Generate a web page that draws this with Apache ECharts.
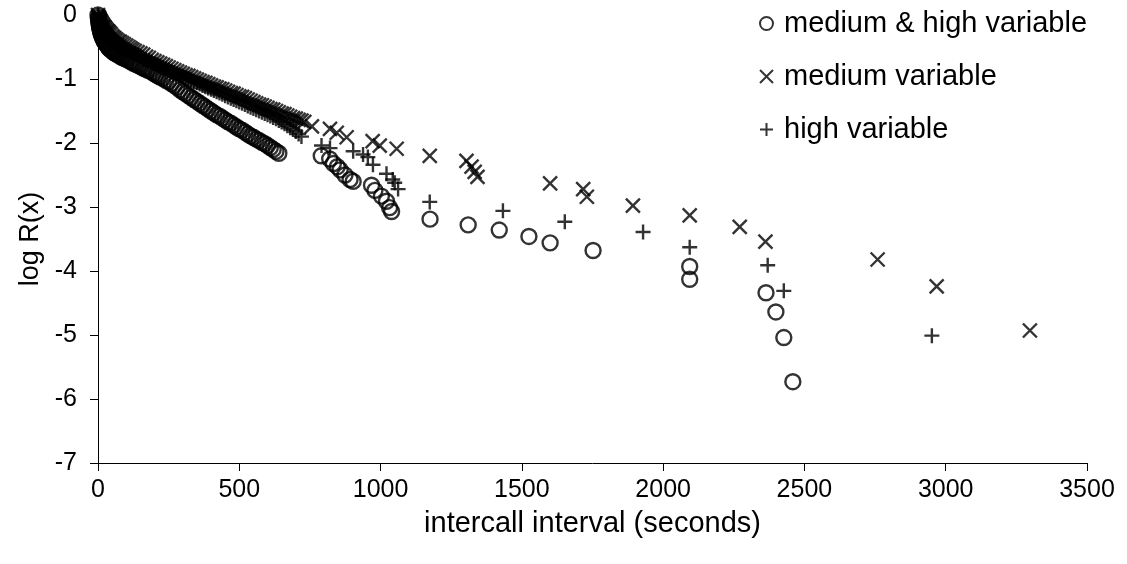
<!DOCTYPE html>
<html>
<head>
<meta charset="utf-8">
<script src="https://cdn.jsdelivr.net/npm/echarts@6/dist/echarts.min.js"></script>
<style>
  html, body { margin: 0; padding: 0; background: #fff; }
  #main { width: 1127px; height: 564px; }
</style>
</head>
<body>
<div id="main"></div>
<script>
  // medium & high variable (circles)
  var mhX = [0,1,2,3,4,5,6,7,8,9,10,11,13,14,16,18,20,22,25,28,30,33,36,39,42,46,50,54,58,62,66,70,75,80,85,90,95,100,105,112,118,124,130,137,145,152,160,167,175,182,190,197,205,212,220,230,240,250,260,270,280,290,300,310,320,330,340,350,360,370,380,390,400,410,420,430,440,450,460,470,480,490,500,510,520,530,540,550,560,570,580,590,600,610,620,630,640,
             790,820,833,847,857,874,892,903,968,980,1003,1021,1032,1039,1175,1310,1420,1525,1600,1752,2094,2094,2364,2399,2427,2459];
  var mhY = [0,-0.04,-0.08,-0.11,-0.14,-0.17,-0.19,-0.21,-0.23,-0.25,-0.27,-0.29,-0.31,-0.33,-0.35,-0.37,-0.39,-0.41,-0.43,-0.45,-0.46,-0.48,-0.5,-0.52,-0.53,-0.55,-0.56,-0.58,-0.59,-0.6,-0.61,-0.62,-0.63,-0.65,-0.66,-0.67,-0.68,-0.69,-0.7,-0.72,-0.73,-0.75,-0.76,-0.78,-0.79,-0.81,-0.83,-0.84,-0.86,-0.87,-0.89,-0.91,-0.93,-0.95,-0.97,-0.99,-1.02,-1.04,-1.07,-1.1,-1.13,-1.17,-1.2,-1.23,-1.26,-1.29,-1.32,-1.35,-1.38,-1.41,-1.44,-1.47,-1.5,-1.53,-1.56,-1.58,-1.61,-1.64,-1.67,-1.69,-1.72,-1.75,-1.78,-1.8,-1.83,-1.86,-1.89,-1.91,-1.94,-1.96,-1.99,-2.01,-2.04,-2.07,-2.1,-2.13,-2.16,
             -2.2,-2.25,-2.32,-2.37,-2.42,-2.5,-2.57,-2.6,-2.66,-2.74,-2.83,-2.91,-3.01,-3.07,-3.19,-3.28,-3.36,-3.46,-3.56,-3.68,-3.93,-4.13,-4.34,-4.64,-5.04,-5.73];

  // medium variable (crosses)
  var mvX = [0,2,3,5,6,8,10,12,15,18,20,23,26,30,33,37,40,45,50,55,60,66,72,78,85,92,100,108,115,122,130,140,150,160,170,180,190,200,210,220,230,240,250,260,270,280,290,300,310,320,330,340,350,360,370,380,390,400,410,420,430,440,450,460,470,480,490,500,510,520,530,540,550,560,570,580,590,600,610,620,630,640,650,660,670,680,690,700,710,720,730,
             757,821,845,880,972,997,1057,1174,1304,1322,1333,1343,1600,1717,1730,1893,2094,2271,2362,2759,2968,3298];
  var mvY = [0,-0.03,-0.04,-0.06,-0.07,-0.09,-0.1,-0.12,-0.14,-0.16,-0.18,-0.19,-0.21,-0.23,-0.25,-0.26,-0.28,-0.3,-0.33,-0.35,-0.37,-0.39,-0.41,-0.42,-0.44,-0.46,-0.48,-0.5,-0.52,-0.54,-0.56,-0.58,-0.6,-0.62,-0.65,-0.67,-0.7,-0.72,-0.74,-0.76,-0.78,-0.8,-0.82,-0.84,-0.86,-0.88,-0.9,-0.92,-0.94,-0.95,-0.97,-0.99,-1.01,-1.03,-1.05,-1.06,-1.08,-1.1,-1.12,-1.13,-1.15,-1.16,-1.18,-1.2,-1.22,-1.23,-1.25,-1.27,-1.28,-1.3,-1.32,-1.34,-1.36,-1.38,-1.4,-1.41,-1.43,-1.45,-1.47,-1.48,-1.5,-1.52,-1.54,-1.55,-1.57,-1.59,-1.61,-1.62,-1.64,-1.65,-1.67,
             -1.74,-1.78,-1.84,-1.91,-1.97,-2.04,-2.09,-2.2,-2.28,-2.37,-2.45,-2.53,-2.63,-2.72,-2.84,-2.98,-3.13,-3.31,-3.54,-3.82,-4.24,-4.93];

  // high variable (plus)
  var hvX = [0,2,4,6,8,10,12,15,18,21,24,27,30,34,38,42,46,50,55,60,65,70,75,82,88,94,100,108,115,122,130,138,145,152,160,170,180,190,200,210,220,230,240,250,260,270,280,290,300,310,320,330,340,350,360,370,380,390,400,410,420,430,440,450,460,470,480,490,500,510,520,530,540,550,560,570,580,590,600,610,620,630,640,650,660,670,680,690,700,710,720,
             791,821,903,938,955,973,1021,1043,1050,1062,1174,1433,1652,1929,2094,2370,2427,2951];
  var hvY = [0,-0.03,-0.05,-0.07,-0.09,-0.11,-0.12,-0.15,-0.17,-0.19,-0.21,-0.23,-0.25,-0.27,-0.29,-0.31,-0.33,-0.35,-0.37,-0.39,-0.41,-0.42,-0.44,-0.46,-0.48,-0.5,-0.52,-0.54,-0.56,-0.58,-0.6,-0.62,-0.63,-0.65,-0.67,-0.69,-0.71,-0.73,-0.76,-0.78,-0.8,-0.82,-0.84,-0.86,-0.88,-0.9,-0.92,-0.94,-0.96,-0.98,-1.0,-1.02,-1.04,-1.06,-1.08,-1.1,-1.12,-1.14,-1.16,-1.18,-1.2,-1.22,-1.24,-1.26,-1.28,-1.3,-1.32,-1.34,-1.36,-1.38,-1.4,-1.42,-1.44,-1.46,-1.48,-1.5,-1.52,-1.54,-1.56,-1.58,-1.6,-1.62,-1.65,-1.67,-1.7,-1.73,-1.76,-1.79,-1.82,-1.86,-1.9,
             -2.04,-2.08,-2.13,-2.18,-2.22,-2.34,-2.48,-2.57,-2.62,-2.72,-2.92,-3.06,-3.23,-3.39,-3.63,-3.91,-4.31,-5.01];

  var xTicks = [0, 500, 1000, 1500, 2000, 2500, 3000, 3500];
  var yTicks = [0, -1, -2, -3, -4, -5, -6, -7];

  function pairs(xs, ys) {
    return xs.map(function (x, i) { return [x, ys[i]]; });
  }

  var crossPath = 'path://M0,0L10,10M10,0L0,10';
  var plusPath = 'path://M5,0L5,10M0,5L10,5';
  var font = 'Liberation Sans, Arial, sans-serif';

  var myChart = echarts.init(document.getElementById('main'));
  myChart.setOption({
    animation: false,
    backgroundColor: '#fff',
    grid: { left: 98, right: 40, top: 15, bottom: 101 },
    legend: {
      orient: 'vertical',
      left: 754,
      top: 4,
      itemWidth: 13,
      itemHeight: 13,
      itemGap: 24,
      textStyle: { fontSize: 29, color: '#000', fontFamily: font, padding: [0, 0, 0, 6] },
      data: ['medium & high variable', 'medium variable', 'high variable']
    },
    xAxis: {
      type: 'value',
      min: xTicks[0],
      max: xTicks[xTicks.length - 1],
      interval: 500,
      name: 'intercall interval (seconds)',
      nameLocation: 'middle',
      nameGap: 46,
      nameTextStyle: { fontSize: 29, color: '#000', fontFamily: font },
      splitLine: { show: false },
      axisLine: { onZero: false, lineStyle: { color: '#000', width: 1 } },
      axisTick: { length: 8, lineStyle: { color: '#000' } },
      axisLabel: { fontSize: 25, color: '#000', fontFamily: font, margin: 15, formatter: function (v) { return String(v); } }
    },
    yAxis: {
      type: 'value',
      min: yTicks[yTicks.length - 1],
      max: yTicks[0],
      interval: 1,
      name: 'log R(x)',
      nameLocation: 'middle',
      nameGap: 51,
      nameTextStyle: { fontSize: 27, color: '#000', fontFamily: font },
      splitLine: { show: false },
      axisLine: { show: true, onZero: false, lineStyle: { color: '#000', width: 1 } },
      axisTick: { show: true, length: 8, lineStyle: { color: '#000' } },
      axisLabel: { fontSize: 25, color: '#000', fontFamily: font, margin: 21 }
    },
    series: [
      {
        name: 'medium & high variable',
        type: 'scatter',
        symbol: 'circle',
        symbolSize: 15,
        itemStyle: { color: 'rgba(0,0,0,0)', borderColor: '#000', borderWidth: 2.4 },
        data: pairs(mhX, mhY)
      },
      {
        name: 'medium variable',
        type: 'scatter',
        symbol: crossPath,
        symbolSize: 14,
        itemStyle: { color: 'rgba(0,0,0,0)', borderColor: '#000', borderWidth: 2.4 },
        data: pairs(mvX, mvY)
      },
      {
        name: 'high variable',
        type: 'scatter',
        symbol: plusPath,
        symbolSize: 15,
        itemStyle: { color: 'rgba(0,0,0,0)', borderColor: '#000', borderWidth: 2.4 },
        data: pairs(hvX, hvY)
      }
    ]
  });
  window.onresize = myChart.resize;
</script>
</body>
</html>
